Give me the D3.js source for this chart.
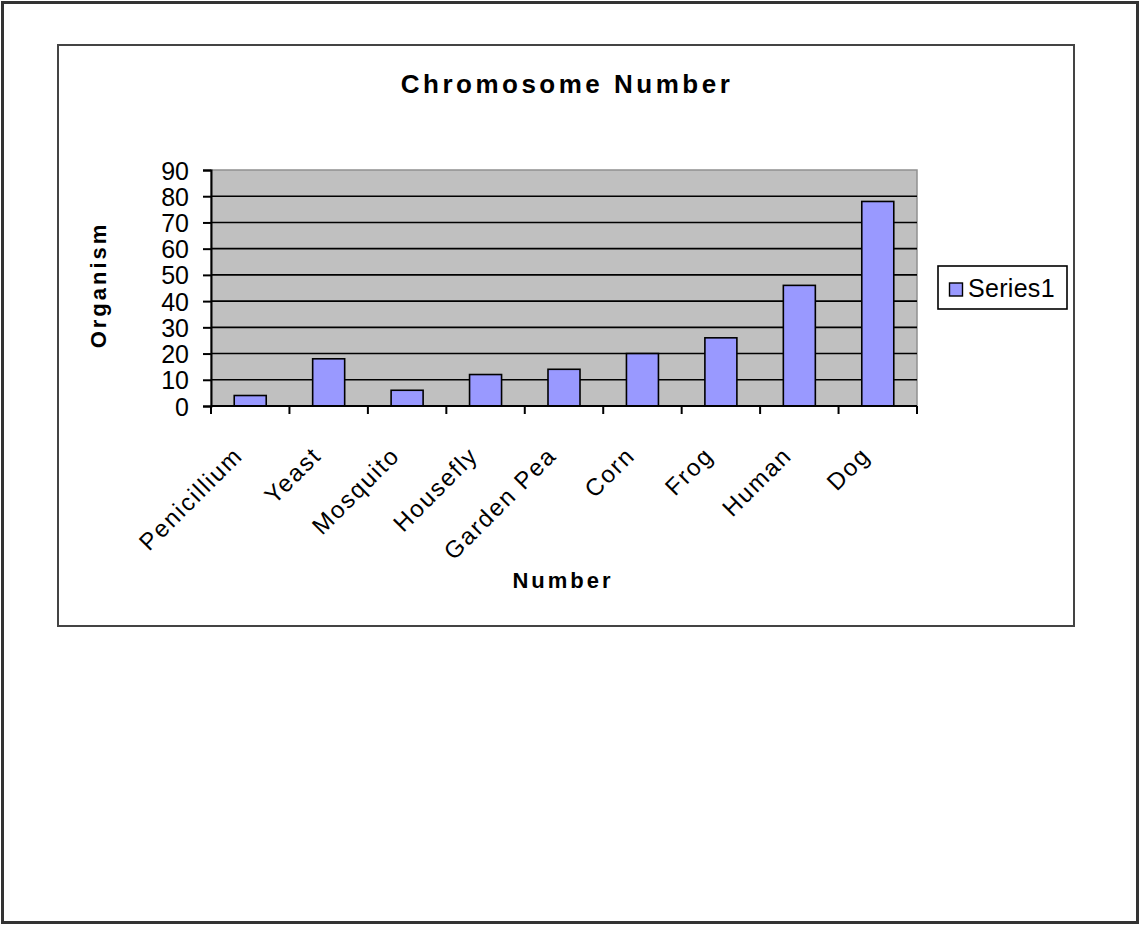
<!DOCTYPE html>
<html>
<head>
<meta charset="utf-8">
<script src="https://cdn.jsdelivr.net/npm/d3@7"></script>
<style>
  html, body { margin: 0; padding: 0; background: #fff; }
  svg { display: block; }
  text { font-family: "Liberation Sans", Arial, sans-serif; fill: #000; }
</style>
</head>
<body>
<svg id="chart" width="1140" height="926"></svg>
<script>
const categories = ["Penicillium", "Yeast", "Mosquito", "Housefly", "Garden Pea", "Corn", "Frog", "Human", "Dog"];
const series1 = [4, 18, 6, 12, 14, 20, 26, 46, 78];
const yTicks = [0, 10, 20, 30, 40, 50, 60, 70, 80, 90];
const seriesName = "Series1";
const chartTitle = "Chromosome Number";
const yTitle = "Organism";
const xTitle = "Number";

const svg = d3.select("#chart");

// outer page frame
svg.append("rect").attr("x", 2.5).attr("y", 2.5).attr("width", 1135).attr("height", 920)
  .attr("fill", "#fff").attr("stroke", "#333").attr("stroke-width", 3);

// chart area frame
svg.append("rect").attr("x", 58).attr("y", 45).attr("width", 1016).attr("height", 581)
  .attr("fill", "#fff").attr("stroke", "#444").attr("stroke-width", 2);

const plot = { left: 211, right: 917, top: 170, bottom: 406 };

const xb = d3.scaleBand().domain(categories).range([plot.left, plot.right]).padding(0);
const y = d3.scaleLinear().domain([0, 90]).range([plot.bottom, plot.top]);

// plot background
svg.append("rect").attr("x", plot.left).attr("y", plot.top)
  .attr("width", plot.right - plot.left).attr("height", plot.bottom - plot.top)
  .attr("fill", "#C0C0C0").attr("stroke", "#909090").attr("stroke-width", 1.5);

// gridlines
svg.append("g").selectAll("line").data(yTicks.filter(d => d > 0 && d < 90)).join("line")
  .attr("x1", plot.left).attr("x2", plot.right)
  .attr("y1", d => y(d)).attr("y2", d => y(d))
  .attr("stroke", "#000").attr("stroke-width", 1.6);

// bars
svg.append("g").selectAll("rect").data(series1).join("rect")
  .attr("x", (d, i) => xb(categories[i]) + xb.bandwidth() / 2 - 16)
  .attr("width", 32)
  .attr("y", d => y(d))
  .attr("height", d => y(0) - y(d))
  .attr("fill", "#9999FF").attr("stroke", "#000").attr("stroke-width", 1.6);

// y axis
const yAxis = d3.axisLeft(y).tickValues(yTicks).tickSize(8).tickPadding(14);
const gy = svg.append("g").attr("transform", `translate(${plot.left},0)`).call(yAxis);
gy.select(".domain").attr("stroke", "#000").attr("stroke-width", 2);
gy.selectAll(".tick line").attr("stroke", "#000").attr("stroke-width", 2);
gy.selectAll(".tick text").attr("font-size", 25).attr("font-family", "Liberation Sans, Arial, sans-serif")
  .attr("fill", "#000").attr("dy", "0.36em");

// x axis: ticks at category boundaries
const boundaries = categories.map(c => xb(c)).concat([plot.right]);
svg.append("line").attr("x1", plot.left).attr("x2", plot.right)
  .attr("y1", plot.bottom).attr("y2", plot.bottom).attr("stroke", "#000").attr("stroke-width", 2);
svg.append("g").selectAll("line").data(boundaries).join("line")
  .attr("x1", d => d).attr("x2", d => d).attr("y1", plot.bottom).attr("y2", plot.bottom + 8)
  .attr("stroke", "#000").attr("stroke-width", 2);

// x tick labels rotated
svg.append("g").selectAll("text").data(categories).join("text")
  .attr("transform", d => `translate(${xb(d) + xb.bandwidth() / 2 - 6},457) rotate(-45)`)
  .attr("text-anchor", "end")
  .attr("font-size", 24)
  .attr("letter-spacing", 1.8)
  .text(d => d);

// title
svg.append("text").attr("x", 567).attr("y", 93).attr("text-anchor", "middle")
  .attr("font-size", 26).attr("font-weight", "bold").attr("letter-spacing", 3.5)
  .text(chartTitle);

// y title
svg.append("text").attr("transform", "translate(106,285) rotate(-90)")
  .attr("text-anchor", "middle").attr("font-size", 22).attr("font-weight", "bold")
  .attr("letter-spacing", 3).text(yTitle);

// x title
svg.append("text").attr("x", 563).attr("y", 588).attr("text-anchor", "middle")
  .attr("font-size", 22).attr("font-weight", "bold").attr("letter-spacing", 3)
  .text(xTitle);

// legend
const lg = svg.append("g");
lg.append("rect").attr("x", 938).attr("y", 266).attr("width", 129).attr("height", 43)
  .attr("fill", "#fff").attr("stroke", "#000").attr("stroke-width", 1.6);
lg.append("rect").attr("x", 949.5).attr("y", 283).attr("width", 13).attr("height", 13)
  .attr("fill", "#9999FF").attr("stroke", "#000").attr("stroke-width", 1.4);
lg.append("text").attr("x", 968).attr("y", 297).attr("font-size", 25).attr("letter-spacing", 0.3)
  .text(seriesName);
</script>
</body>
</html>
